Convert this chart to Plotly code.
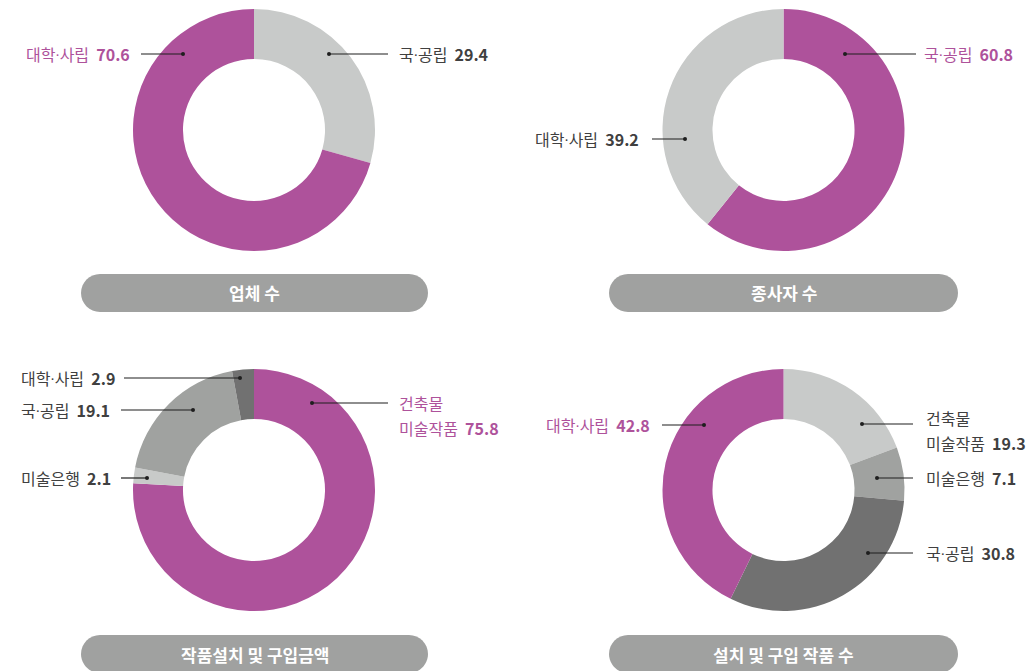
import plotly.graph_objects as go

# ---------------- data ----------------
titles = ["업체 수", "종사자 수", "작품설치 및 구입금액", "설치 및 구입 작품 수"]

c1_labels = ["국·공립", "대학·사립"]
c1_values = [29.4, 70.6]

c2_labels = ["국·공립", "대학·사립"]
c2_values = [60.8, 39.2]

c3_labels = ["건축물 미술작품", "미술은행", "국·공립", "대학·사립"]
c3_values = [75.8, 2.1, 19.1, 2.9]

c4_labels = ["건축물 미술작품", "미술은행", "국·공립", "대학·사립"]
c4_values = [19.3, 7.1, 30.8, 42.8]

# ---------------- style ----------------
W, H = 1026, 671
MAGENTA = "#AE529B"
LIGHT = "#C8CAC9"
MID = "#A0A2A0"
DARK = "#717171"
TEXT_DARK = "#404040"
PILL = "#A0A1A0"
FONT = "Noto Sans CJK KR"

c1_colors = [LIGHT, MAGENTA]
c2_colors = [MAGENTA, LIGHT]
c3_colors = [MAGENTA, LIGHT, MID, DARK]
c4_colors = [LIGHT, MID, DARK, MAGENTA]

# display line breaks for long labels
display_break = {"건축물 미술작품": ["건축물", "미술작품"]}

# geometry (pixels from top-left)
centers = [(254, 130), (783.5, 130), (254, 490), (783.5, 490)]
R_OUT = 121
HOLE = 0.587
pills = [(81, 274, 428, 312), (609, 274, 958, 312), (81, 635, 428, 673), (609, 635, 958, 673)]

# label placements: (anchor, text_x, text_y_first_line, line_y, line_x0, line_x1, dot_x)
placements = [
    [("left", 397, 54, 54, 329, 388, 329), ("right", 132, 54, 54, 141, 183, 183)],
    [("left", 922, 54, 54, 845, 916, 845), ("right", 641, 139, 139, 652, 685, 685)],
    [("left", 397, 403, 403, 312, 388, 312), ("left", 19, 478, 478, 121, 147, 147),
     ("left", 19, 410, 410, 121, 193, 193), ("left", 19, 378, 378, 124, 240, 240)],
    [("left", 924, 418, 424, 862, 913, 862), ("left", 924, 478, 478, 877, 913, 877),
     ("left", 924, 553, 553, 868, 913, 868), ("right", 652, 425, 425, 662, 704, 704)],
]
LINE_GAP = 25


def px(x):
    return x / W


def py(y):
    return 1 - y / H


def fmt_label(s):
    # tighter middle dot than the CJK font's wide one
    return s.replace("·", "<span style='font-family:Roboto'>·</span>")


charts = [
    (c1_labels, c1_values, c1_colors),
    (c2_labels, c2_values, c2_colors),
    (c3_labels, c3_values, c3_colors),
    (c4_labels, c4_values, c4_colors),
]

fig = go.Figure()
shapes = []
annotations = []

for i, (labels, values, colors) in enumerate(charts):
    cx, cy = centers[i]
    fig.add_trace(go.Pie(
        labels=labels, values=values, sort=False, direction="clockwise", rotation=0,
        hole=HOLE, marker=dict(colors=colors, line=dict(width=0)),
        textinfo="none", hoverinfo="label+value", showlegend=False,
        domain=dict(x=[px(cx - R_OUT), px(cx + R_OUT)], y=[py(cy + R_OUT), py(cy - R_OUT)]),
    ))

    # pill
    x0, y0, x1, y1 = pills[i]
    r = (y1 - y0) / 2
    k = 0.5523 * r
    path = (
        f"M {px(x0 + r)},{py(y0)} L {px(x1 - r)},{py(y0)} "
        f"C {px(x1 - r + k)},{py(y0)} {px(x1)},{py(y0 + r - k)} {px(x1)},{py(y0 + r)} "
        f"C {px(x1)},{py(y0 + r + k)} {px(x1 - r + k)},{py(y1)} {px(x1 - r)},{py(y1)} "
        f"L {px(x0 + r)},{py(y1)} "
        f"C {px(x0 + r - k)},{py(y1)} {px(x0)},{py(y0 + r + k)} {px(x0)},{py(y0 + r)} "
        f"C {px(x0)},{py(y0 + r - k)} {px(x0 + r - k)},{py(y0)} {px(x0 + r)},{py(y0)} Z"
    )
    shapes.append(dict(type="path", xref="paper", yref="paper", path=path,
                       fillcolor=PILL, line=dict(width=0), layer="above"))
    annotations.append(dict(xref="paper", yref="paper", x=px((x0 + x1) / 2), y=py((y0 + y1) / 2),
                            text=f"<b>{titles[i]}</b>", showarrow=False,
                            xanchor="center", yanchor="middle",
                            font=dict(family=FONT, size=17, color="white")))

    # labels + leader lines
    for j, (lab, val, col) in enumerate(zip(labels, values, colors)):
        anchor, tx, ty, ly, lx0, lx1, dx = placements[i][j]
        tcol = MAGENTA if col == MAGENTA else TEXT_DARK
        lines = display_break.get(lab, [lab])
        for n, line in enumerate(lines):
            txt = fmt_label(line)
            if n == len(lines) - 1:
                txt = f"{txt}  <b>{val}</b>"
            annotations.append(dict(xref="paper", yref="paper", x=px(tx), y=py(ty + n * LINE_GAP),
                                    text=txt, showarrow=False, xanchor=anchor, yanchor="middle",
                                    font=dict(family=FONT, size=16, color=tcol)))
        shapes.append(dict(type="line", xref="paper", yref="paper",
                           x0=px(lx0), x1=px(lx1), y0=py(ly), y1=py(ly),
                           line=dict(color="#1E1E1E", width=1.2), layer="above"))
        shapes.append(dict(type="circle", xref="paper", yref="paper",
                           x0=px(dx - 2), x1=px(dx + 2), y0=py(ly - 2), y1=py(ly + 2),
                           fillcolor="#1E1E1E", line=dict(width=0), layer="above"))

fig.update_layout(
    width=W, height=H, autosize=False,
    margin=dict(l=0, r=0, t=0, b=0),
    paper_bgcolor="white", plot_bgcolor="white",
    shapes=shapes, annotations=annotations,
    font=dict(family=FONT),
)

fig.write_html("out.html", config={"displayModeBar": False},
               post_script="document.body.style.margin='0';document.body.style.overflow='hidden';")
